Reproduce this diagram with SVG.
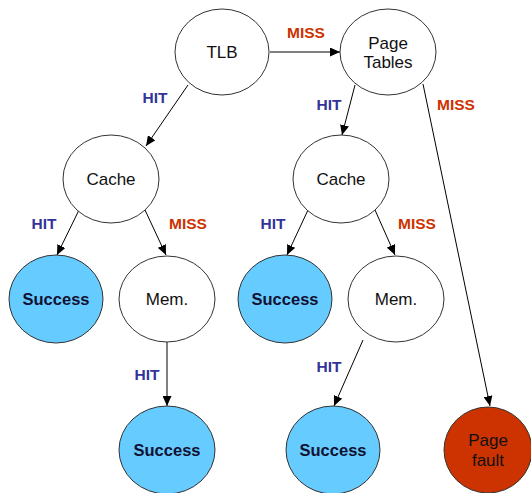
<svg xmlns="http://www.w3.org/2000/svg" width="531" height="493" viewBox="0 0 531 493">
<defs>
<marker id="ah" markerWidth="10" markerHeight="9" refX="10" refY="4.5" orient="auto" markerUnits="userSpaceOnUse">
<path d="M0,0 L10,4.5 L0,9 Z" fill="#000"/>
</marker>
<style>
.n{fill:#fff;stroke:#333;stroke-width:1}
.s{fill:#66ccff;stroke:#333;stroke-width:1}
.f{fill:#cc3300;stroke:#333;stroke-width:1}
.t{font-family:"Liberation Sans",Arial,sans-serif;font-size:17px;fill:#111;text-anchor:middle}
.b{font-family:"Liberation Sans",Arial,sans-serif;font-size:16.5px;font-weight:bold;fill:#111133;text-anchor:middle}
.hit{font-family:"Liberation Sans",Arial,sans-serif;font-size:15.5px;font-weight:bold;fill:#333399;text-anchor:middle}
.miss{font-family:"Liberation Sans",Arial,sans-serif;font-size:15.5px;font-weight:bold;fill:#cc3300;text-anchor:middle}
.c{stroke:#000;stroke-width:1;fill:none;marker-end:url(#ah)}
</style>
</defs>
<rect width="531" height="493" fill="#fff"/>
<g id="connectors">
<line class="c" x1="270" y1="52" x2="340" y2="52"/>
<line class="c" x1="188" y1="85" x2="146" y2="146"/>
<line class="c" x1="79" y1="210" x2="57" y2="255"/>
<line class="c" x1="145" y1="210" x2="166" y2="255"/>
<line class="c" x1="167" y1="342" x2="167" y2="406"/>
<line class="c" x1="355" y1="85" x2="342" y2="135"/>
<line class="c" x1="423" y1="84" x2="490" y2="406"/>
<line class="c" x1="308" y1="210" x2="287" y2="255"/>
<line class="c" x1="375" y1="210" x2="395" y2="255"/>
<line class="c" x1="363" y1="340" x2="334" y2="406"/>
</g>
<g id="labels">
<text class="miss" x="306" y="38">MISS</text>
<text class="hit" x="155" y="103">HIT</text>
<text class="hit" x="329" y="110">HIT</text>
<text class="miss" x="456" y="110">MISS</text>
<text class="hit" x="44" y="229">HIT</text>
<text class="miss" x="188" y="229">MISS</text>
<text class="hit" x="273" y="229">HIT</text>
<text class="miss" x="417" y="229">MISS</text>
<text class="hit" x="147" y="380">HIT</text>
<text class="hit" x="329" y="372">HIT</text>
</g>
<g id="tlb"><ellipse class="n" cx="222" cy="52" rx="47" ry="43"/><text class="t" x="222" y="58">TLB</text></g>
<g id="pagetables"><ellipse class="n" cx="388" cy="52" rx="48" ry="43"/><text class="t" x="388" y="49">Page</text><text class="t" x="388" y="68">Tables</text></g>
<g id="cache1"><ellipse class="n" cx="111" cy="179" rx="48" ry="44"/><text class="t" x="111" y="185">Cache</text></g>
<g id="cache2"><ellipse class="n" cx="341" cy="179" rx="48" ry="44"/><text class="t" x="341" y="185">Cache</text></g>
<g id="success1"><ellipse class="s" cx="56" cy="299" rx="47" ry="44"/><text class="b" x="56" y="305">Success</text></g>
<g id="mem1"><ellipse class="n" cx="167" cy="299" rx="48" ry="43"/><text class="t" x="167" y="305">Mem.</text></g>
<g id="success3"><ellipse class="s" cx="285" cy="299" rx="47" ry="44"/><text class="b" x="285" y="305">Success</text></g>
<g id="mem2"><ellipse class="n" cx="396" cy="299" rx="48" ry="43"/><text class="t" x="396" y="305">Mem.</text></g>
<g id="success2"><ellipse class="s" cx="167" cy="450" rx="48" ry="44"/><text class="b" x="167" y="456">Success</text></g>
<g id="success4"><ellipse class="s" cx="333" cy="450" rx="47" ry="44"/><text class="b" x="333" y="456">Success</text></g>
<g id="pagefault"><ellipse class="f" cx="488" cy="450" rx="44" ry="43"/><text class="t" x="488" y="446">Page</text><text class="t" x="488" y="466">fault</text></g>
</svg>
